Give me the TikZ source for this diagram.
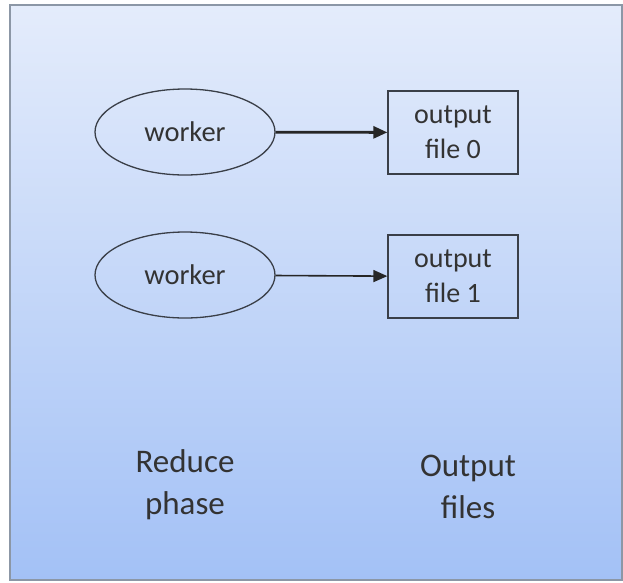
\documentclass[tikz,border=0pt]{standalone}
\usepackage{tikz}
\usepackage{xcolor}
\usepackage{fontspec}
\setmainfont{Carlito}
\usetikzlibrary{arrows.meta,shapes.geometric}

\definecolor{panetop}{HTML}{E4ECFB}
\definecolor{panebottom}{HTML}{A3C1F6}
\definecolor{paneedge}{HTML}{8C97A6}
\definecolor{inkgray}{HTML}{3A3F48}

\tikzset{
  worker/.style={ellipse, draw=inkgray, line width=1.3pt, minimum width=180pt,
    minimum height=86pt, inner sep=0pt, font=\fontsize{28.5}{33}\selectfont, text=black!80},
  outfile/.style={rectangle, draw=inkgray, line width=1.3pt, minimum width=130pt,
    minimum height=83pt, inner sep=0pt, align=center,
    font=\fontsize{28}{35}\selectfont, text=black!80},
  caption/.style={align=center, font=\fontsize{33}{42}\selectfont, text=black!80},
  feed/.style={-{Triangle[length=14pt,width=12pt]}, color=black!85}
}

\begin{document}
\begin{tikzpicture}[x=1pt,y=-1pt]
            \useasboundingbox (0,0) rectangle (623,582);
            % background pane
            \shade[top color=panetop, bottom color=panebottom] (10,5) rectangle (622,580);
            \draw[paneedge, line width=1.5pt] (10,5) rectangle (622,580);
            % workers
            \node[worker] (worker0) at (185,132) {worker};
            \node[worker] (worker1) at (185,275) {worker};
            % output files
            \node[outfile] (file0) at (453,132.5) {output\\file 0};
            \node[outfile] (file1) at (453,276.5) {output\\file 1};
            % arrows
            \draw[feed, line width=2.8pt] (worker0) -- (file0);
            \draw[feed, line width=1.6pt] (worker1) -- (file1);
            % phase labels
            \node[caption] (reduce) at (185,485) {Reduce\\phase};
            \node[caption] (outputs) at (468,487) {Output\\files};
        \end{tikzpicture}
\end{document}
